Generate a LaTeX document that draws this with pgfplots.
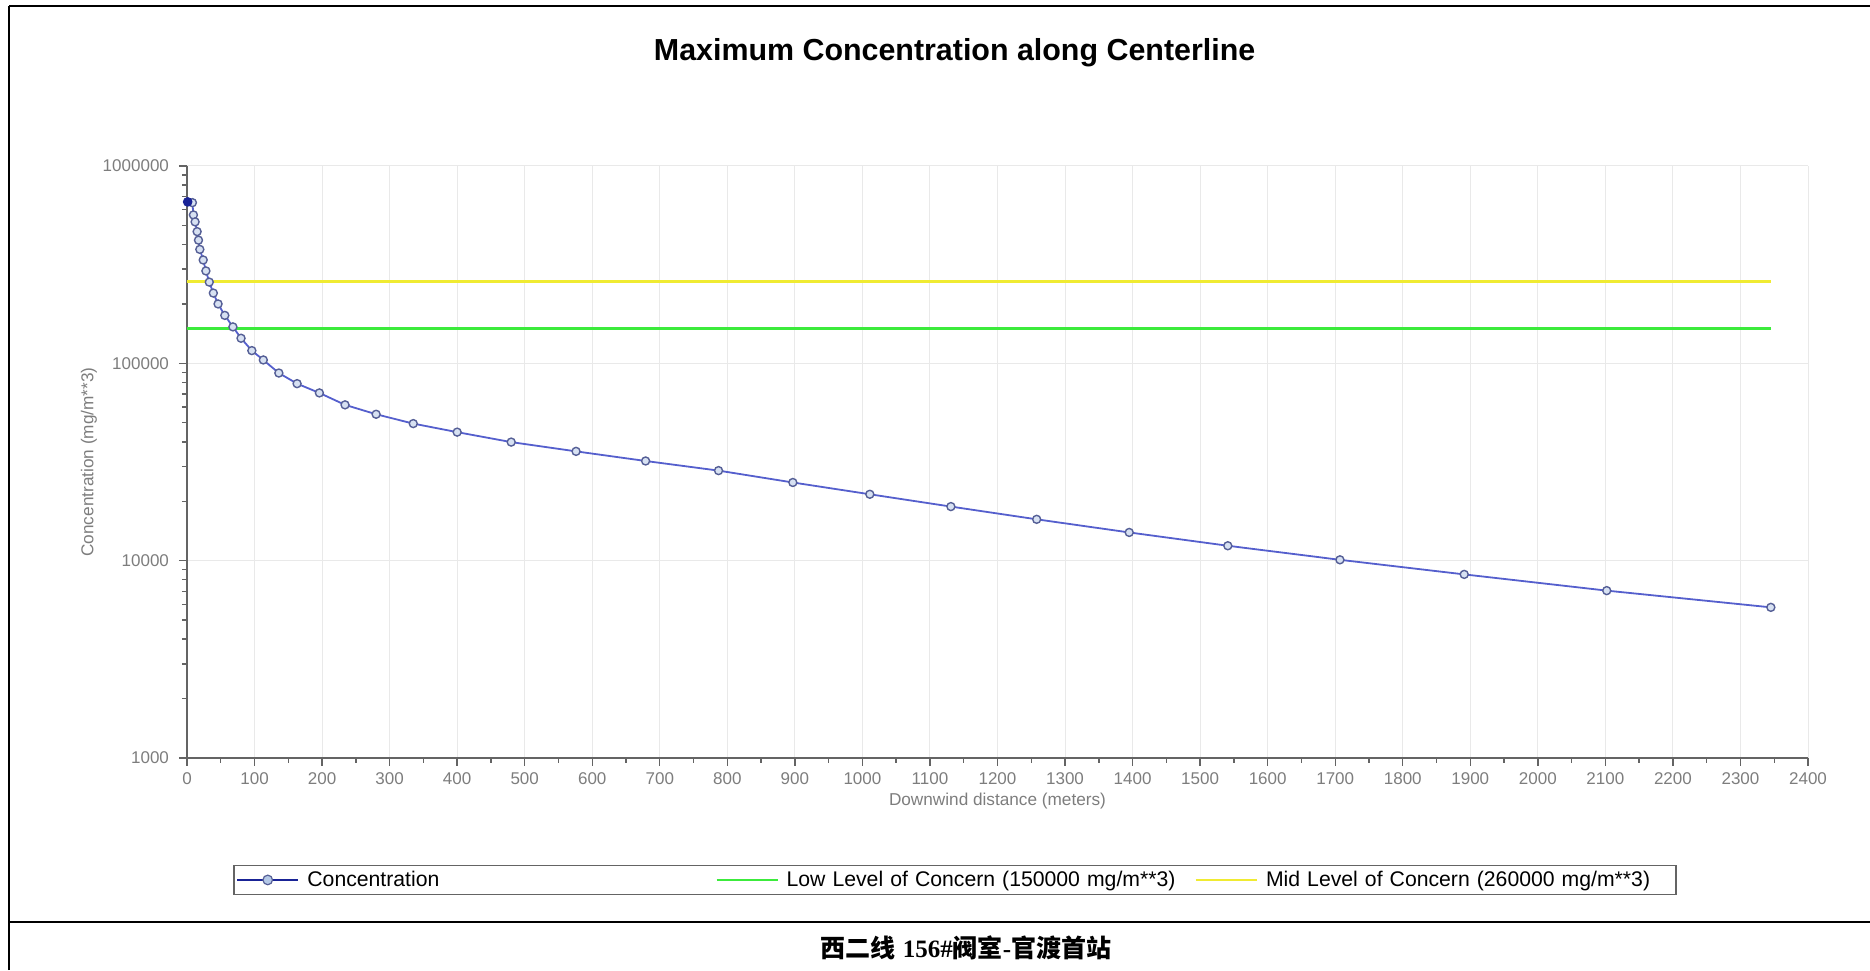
\documentclass[border=0pt]{standalone}
\usepackage{pgfplots}
\pgfplotsset{compat=1.18}
\usepackage{fontspec}
\setmainfont{Liberation Sans}
\newfontfamily\cjk{Noto Sans CJK SC}
\newfontfamily\serifb{Liberation Serif}
\definecolor{concline}{RGB}{85,95,205}
\definecolor{markedge}{RGB}{85,95,150}
\definecolor{markfill}{RGB}{215,225,242}
\definecolor{legfill}{RGB}{180,200,230}
\definecolor{navy}{RGB}{25,35,150}
\definecolor{lowc}{RGB}{60,235,60}
\definecolor{midc}{RGB}{240,235,50}
\definecolor{axgray}{RGB}{100,100,100}
\definecolor{txtgray}{RGB}{125,125,125}
\definecolor{gridc}{RGB}{233,233,233}
\pgfplotstableread{
x y
8 652000
9.5 565000
12 521000
15 465000
17 421000
19 378000
24 334000
28 294000
33 258000
39 227000
46 200000
56 175000
68 153000
80 134000
96 116000
113 104000
136 89300
163 78900
196 70800
234 61600
280 55200
335 49500
400 44800
480 39900
576 35800
679 32000
787 28600
897 24900
1011 21700
1131 18800
1258 16200
1395 13900
1541 11900
1707 10100
1891 8520
2102 7050
2345 5800
}\conc
\begin{document}
\begin{tikzpicture}
\path[use as bounding box] (-93.5pt,-106pt) rectangle (841.5pt,379pt);
\begin{axis}[
 at={(0pt,0pt)}, anchor=south west,
 scale only axis, width=810.5pt, height=296pt,
 ymode=log, xmin=0, xmax=2400, ymin=1000, ymax=1000000,
 axis lines*=left,
 axis line style={axgray, line width=1.3pt},
 tick align=outside,
 major tick length=4pt, minor tick length=2.5pt,
 tick style={axgray, line width=0.7pt},
 xtick={0,100,...,2400},
 minor x tick num=1,
 ytick={1000,10000,100000,1000000},
 yticklabels={1000,10000,100000,1000000},
 minor ytick={2000,3000,4000,5000,6000,7000,8000,9000,20000,30000,40000,50000,60000,70000,80000,90000,200000,300000,400000,500000,600000,700000,800000,900000},
 grid=major, grid style={gridc, line width=0.5pt},
 ticklabel style={font=\fontsize{8.5}{10}\selectfont, text=txtgray},
 yticklabel style={xshift=-1.5pt},
 /pgf/number format/assume math mode=true,
 /pgf/number format/1000 sep={},
 xlabel={Downwind distance (meters)},
 ylabel={Concentration (mg/m**3)},
 label style={font=\fontsize{8.6}{10}\selectfont, text=txtgray},
 xlabel style={at={(axis description cs:0.5,-0.0726)}, anchor=center},
 ylabel style={at={(axis description cs:-0.0605,0.5)}, anchor=center},
 legend columns=3,
 legend cell align=left,
 legend style={at={(axis description cs:0.4738,-0.206)}, anchor=center,
   draw=axgray, line width=0.6pt, inner sep=1pt,
   font=\fontsize{10.6}{12}\selectfont,
   nodes={text width=200pt, inner xsep=4pt, inner ysep=1.5pt, align=left},
   /tikz/every even column/.append style={column sep=0pt}},
 legend image code/.code={\draw[mark repeat=2,mark phase=2,#1] plot coordinates {(0pt,0pt)(15.25pt,0pt)(30.5pt,0pt)};},
]
\addplot[concline, line width=0.9pt, mark=*, mark size=2pt,
  mark options={draw=markedge, fill=markfill, line width=0.7pt},
  legend image code/.code={\draw[navy, line width=1.2pt, mark=*, mark size=2.4pt, mark options={draw=markedge, fill=legfill, line width=0.6pt}, mark repeat=2, mark phase=2] plot coordinates {(0pt,0pt)(15.25pt,0pt)(30.5pt,0pt)};}
  ] table[x=x,y=y] {\conc};
\addlegendentry{Concentration}
\addplot[lowc, line width=1.1pt] coordinates {(0,150000) (2345,150000)};
\addlegendentry{Low Level of Concern (150000 mg/m**3)}
\addplot[midc, line width=1.2pt] coordinates {(0,260000) (2345,260000)};
\addlegendentry{Mid Level of Concern (260000 mg/m**3)}
\addplot[only marks, mark=*, mark size=2.2pt, navy, forget plot] coordinates {(1,658000)};
\end{axis}
\node[font=\bfseries\fontsize{15.2}{18}\selectfont] at (383.8pt,352.75pt) {Maximum Concentration along Centerline};
\node[font=\bfseries\fontsize{12.5}{14}\selectfont] at (389.5pt,-95pt) {{\cjk 西二线} {\serifb\bfseries 156\#}{\cjk 阀室}{\serifb\bfseries -}{\cjk 官渡首站}};
\draw[black, line width=1pt] (-88.75pt,-106pt) -- (-88.75pt,376pt);
\draw[black, line width=1pt] (-88.75pt,376pt) -- (841.5pt,376pt);
\draw[black, line width=1.3pt] (-88.75pt,-82pt) -- (841.5pt,-82pt);
\end{tikzpicture}
\end{document}
